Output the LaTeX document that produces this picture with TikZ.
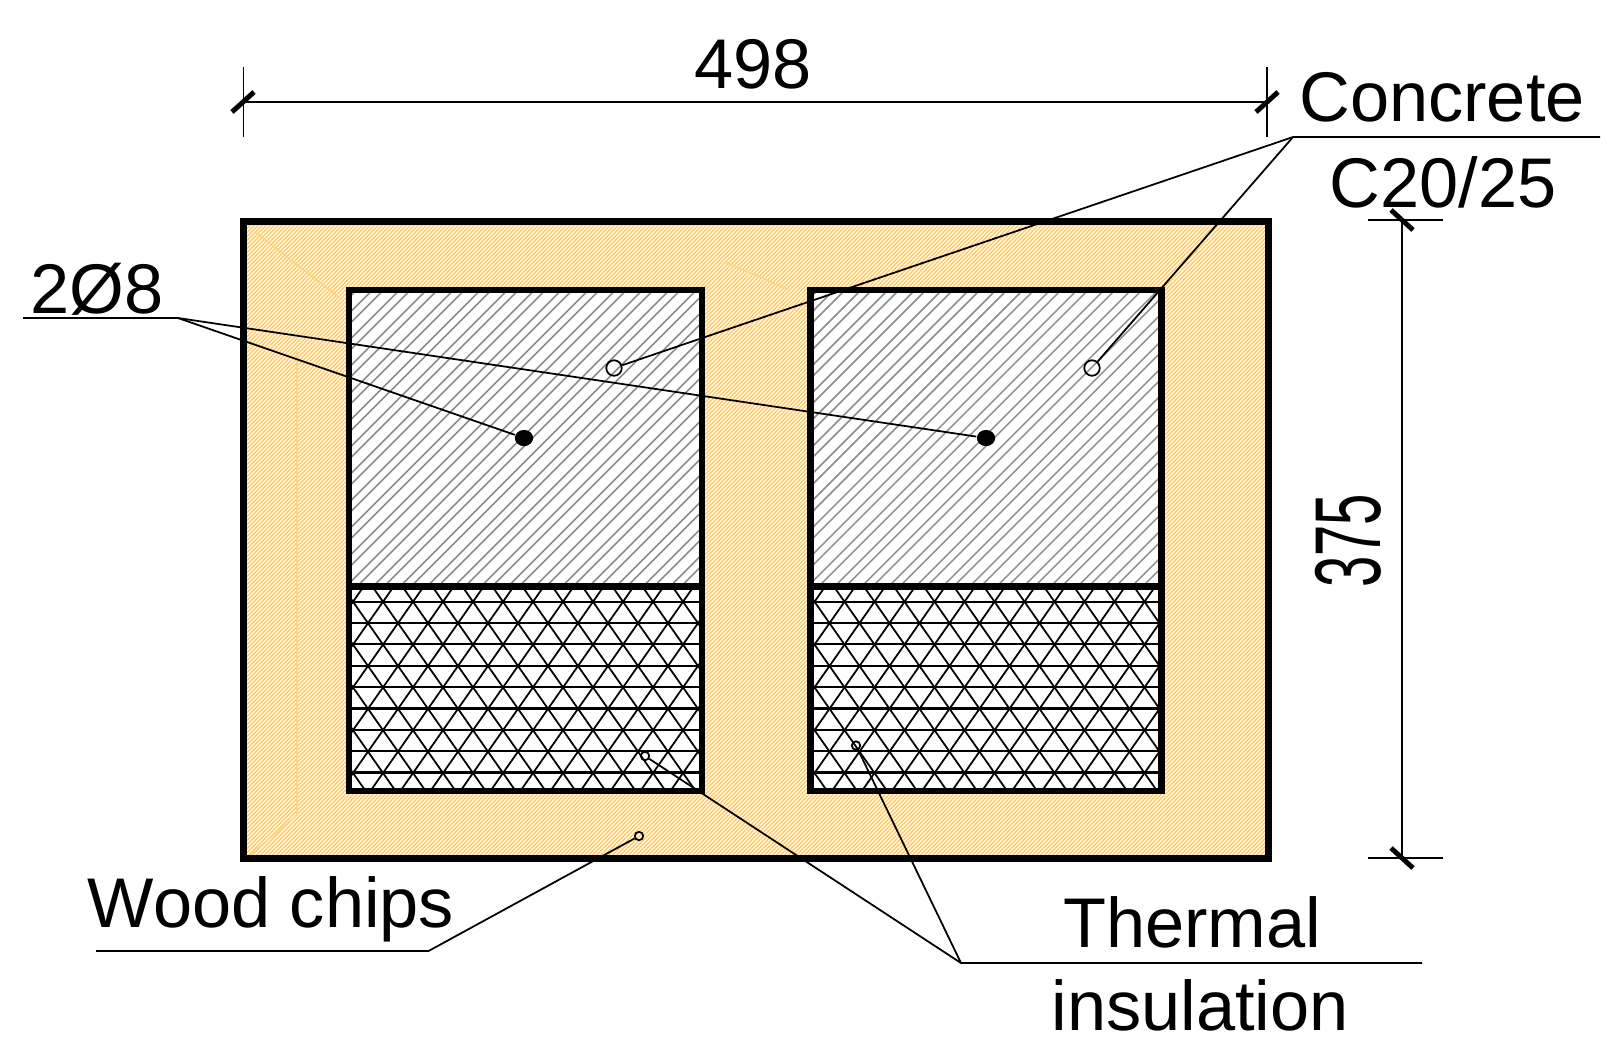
\documentclass[tikz,border=0pt]{standalone}
\usepackage{fontspec}
\setmainfont{Liberation Sans}
\definecolor{chips}{HTML}{FFCC6C}
\definecolor{chipsline}{HTML}{FFD689}
\definecolor{concgrey}{HTML}{8C8C8C}
\tikzset{
    wall-line/.style = {draw=black, line width=2pt},
    part-line/.style = {draw=black, line width=1.8pt},
    leader-line/.style = {draw=black, line width=0.5pt},
    dim-line/.style = {draw=black, line width=0.5pt},
    dim-tick/.style = {draw=black, line width=1.4pt},
    label-text/.style = {font=\fontsize{20}{24}\selectfont, inner sep=0pt, anchor=base},
    open-bar/.style = {draw=black, fill=none, circle, line width=0.5pt, inner sep=0pt, minimum size=4.4pt},
    small-bar/.style = {draw=black, fill=none, circle, line width=0.5pt, inner sep=0pt, minimum size=2.4pt},
    solid-bar/.style = {fill=black, ellipse, inner sep=0pt, minimum width=5.2pt, minimum height=4.6pt},
}
\usetikzlibrary{shapes.geometric}

\begin{document}
\begin{tikzpicture}[x=0.01cm, y=-0.01cm]
\useasboundingbox (0,0) rectangle (1619,1056);

% wood chips
\fill[chips] (243.5,221) rectangle (1268,858);
\begin{scope}
\clip (243.5,221) rectangle (1268,858);
\foreach \k in {0,...,415}
    \draw[white, line width=0.3pt] ({243.5+4*\k},858) -- ++(640,-640);
\foreach \k in {1,...,160}
    \draw[white, line width=0.3pt] (243.5,{858-4*\k}) -- ++(640,-640);
\end{scope}
\draw[chipsline, line width=0.5pt] (297,350) -- (297,815) -- (250,855);
\draw[chipsline, line width=0.5pt] (255,232) -- (340,298);
\draw[chipsline, line width=0.5pt] (725,262) -- (790,290);

\foreach \bx/\ex in {349/702,810.5/1161.5} {
    % concrete
    \fill[white] (\bx,290) rectangle (\ex,791);
    \begin{scope}
    \clip (\bx,290) rectangle (\ex,586.5);
    \foreach \k in {0,...,24} {
        \draw[concgrey, line width=0.42pt] ({\bx+27*\k-300},586.5) -- ++(320,-320);
        \draw[concgrey, line width=0.42pt] ({\bx+27*\k-289},586.5) -- ++(320,-320);
    }
    \end{scope}
    % insulation
    \begin{scope}
    \clip (\bx,586.5) rectangle (\ex,791);
    \foreach \r in {0,...,8}
        \draw[black, line width=0.6pt] (\bx,{601.7+21.35*\r}) -- (\ex,{601.7+21.35*\r});
    \foreach \k in {-6,...,18} {
        \draw[black, line width=0.5pt] ({\bx+34+30*\k-15},580.3) -- ({\bx+34+30*\k+150},815.8);
        \draw[black, line width=0.5pt] ({\bx+34+30*\k+15},580.3) -- ({\bx+34+30*\k-150},815.8);
    }
    \end{scope}
    \draw[part-line] (\bx,290) rectangle (\ex,791);
    \draw[part-line] (\bx,586.5) -- (\ex,586.5);
}
\draw[wall-line] (243.5,221) rectangle (1268,858);

% bars
\node[open-bar] (bar-a) at (614,368) {};
\node[open-bar] (bar-b) at (1092,368) {};
\node[solid-bar] (bar-c) at (524,438) {};
\node[solid-bar] (bar-d) at (986,438) {};
\node[small-bar] (dot-chips) at (639,836) {};
\node[small-bar] (dot-ins-a) at (645,756) {};
\node[small-bar] (dot-ins-b) at (856,745.5) {};

% leaders
\coordinate (conc-knee) at (1293,137);
\coordinate (conc-end) at (1600,137);
\coordinate (dia-knee) at (178,318);
\coordinate (dia-end) at (23,318);
\coordinate (chips-knee) at (428.5,951);
\coordinate (chips-end) at (96,951);
\coordinate (ins-knee) at (961,963);
\coordinate (ins-end) at (1422,963);
\draw[leader-line] (conc-end) -- (conc-knee) -- (bar-a);
\draw[leader-line] (conc-knee) -- (bar-b);
\draw[leader-line] (dia-end) -- (dia-knee) -- (bar-c);
\draw[leader-line] (dia-knee) -- (bar-d);
\draw[leader-line] (chips-end) -- (chips-knee) -- (dot-chips);
\draw[leader-line] (ins-end) -- (ins-knee) -- (dot-ins-a);
\draw[leader-line] (ins-knee) -- (dot-ins-b);

% dimensions
\coordinate (top-a) at (243.5,102);
\coordinate (top-b) at (1267,102);
\coordinate (side-a) at (1402,220);
\coordinate (side-b) at (1402,858);
\draw[dim-line] (top-a) -- (top-b);
\draw[dim-line] (243.5,67) -- (243.5,137);
\draw[dim-line] (1267,67) -- (1267,137);
\draw[dim-tick] (232,112) -- (254,92);
\draw[dim-tick] (1256,112) -- (1278,92);
\draw[dim-line] (side-a) -- (side-b);
\draw[dim-line] (1368,220) -- (1443,220);
\draw[dim-line] (1368,858) -- (1443,858);
\draw[dim-tick] (1391,210) -- (1413,230);
\draw[dim-tick] (1391,848) -- (1413,868);

% labels
\node[label-text] (dim-width) at (753,88) {498};
\node[label-text, rotate=90, xscale=0.8, yscale=1.33] (dim-height) at (1380,541) {375};
\node[label-text] (lab-concrete) at (1442,121) {Concrete};
\node[label-text] (lab-class) at (1443,207) {C20/25};
\node[label-text] (lab-rebar) at (97,313) {2Ø8};
\node[label-text] (lab-chips) at (271,927) {Wood chips};
\node[label-text] (lab-thermal) at (1192,947) {Thermal};
\node[label-text] (lab-insul) at (1200,1030) {insulation};
\end{tikzpicture}
\end{document}
